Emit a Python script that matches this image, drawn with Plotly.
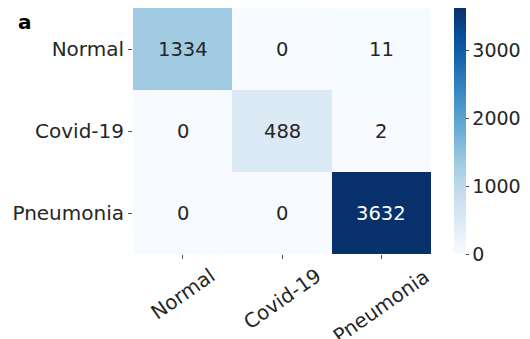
import plotly.graph_objects as go
import plotly.colors as pc

# Confusion matrix: rows = true class, columns = predicted class
classes = ["Normal", "Covid-19", "Pneumonia"]
counts = [
    [1334, 0, 11],
    [0, 488, 2],
    [0, 0, 3632],
]
cbar_ticks = [0, 1000, 2000, 3000]

FONT = "DejaVu Sans"
DARK = "#262626"
blues = pc.sequential.Blues
zmax = max(max(r) for r in counts)

fig = go.Figure(
    go.Heatmap(
        z=counts,
        x=classes,
        y=classes,
        colorscale=blues,
        zmin=0,
        zmax=zmax,
        xgap=0,
        ygap=0,
        colorbar=dict(
            x=1.056,
            xanchor="left",
            xpad=0,
            y=0.5,
            yanchor="middle",
            ypad=0,
            len=1,
            lenmode="fraction",
            thickness=12,
            outlinewidth=0,
            tickvals=cbar_ticks,
            ticktext=[str(v) for v in cbar_ticks],
            ticks="outside",
            ticklen=3,
            tickcolor="#444",
            tickfont=dict(family=FONT, size=19, color=DARK),
        ),
        hoverinfo="skip",
    )
)

# Cell value labels: white on dark cells, dark grey on light cells
for i, row_name in enumerate(classes):
    for j, col_name in enumerate(classes):
        v = counts[i][j]
        fig.add_annotation(
            x=col_name,
            y=row_name,
            xref="x",
            yref="y",
            text=str(v),
            showarrow=False,
            font=dict(family=FONT, size=19.5, color="white" if v / zmax > 0.6 else DARK),
        )

# Rotated x tick labels, centred under each column
for col_name in classes:
    fig.add_annotation(
        x=col_name,
        y=0,
        xref="x",
        yref="paper",
        yanchor="top",
        xanchor="center",
        yshift=-7,
        text=col_name,
        textangle=-35,
        showarrow=False,
        font=dict(family=FONT, size=20, color=DARK),
    )

# Panel letter
fig.add_annotation(
    x=-0.385,
    y=1.0,
    xref="paper",
    yref="paper",
    xanchor="left",
    yanchor="top",
    text="<b>a</b>",
    showarrow=False,
    font=dict(family=FONT, size=20, color="black"),
)

fig.update_xaxes(
    type="category",
    showticklabels=False,
    ticks="outside",
    ticklen=4,
    tickwidth=1,
    tickcolor="#555",
    showgrid=False,
    zeroline=False,
    showline=False,
)
fig.update_yaxes(
    type="category",
    autorange="reversed",
    ticks="outside",
    ticklen=4,
    tickwidth=1,
    tickcolor="#555",
    tickfont=dict(family=FONT, size=20, color=DARK),
    showgrid=False,
    zeroline=False,
    showline=False,
)

fig.update_layout(
    width=530,
    height=339,
    margin=dict(l=133, r=93, t=8, b=85),
    paper_bgcolor="white",
    plot_bgcolor="white",
    font=dict(family=FONT, color=DARK),
    showlegend=False,
)

fig.write_html("out.html")
